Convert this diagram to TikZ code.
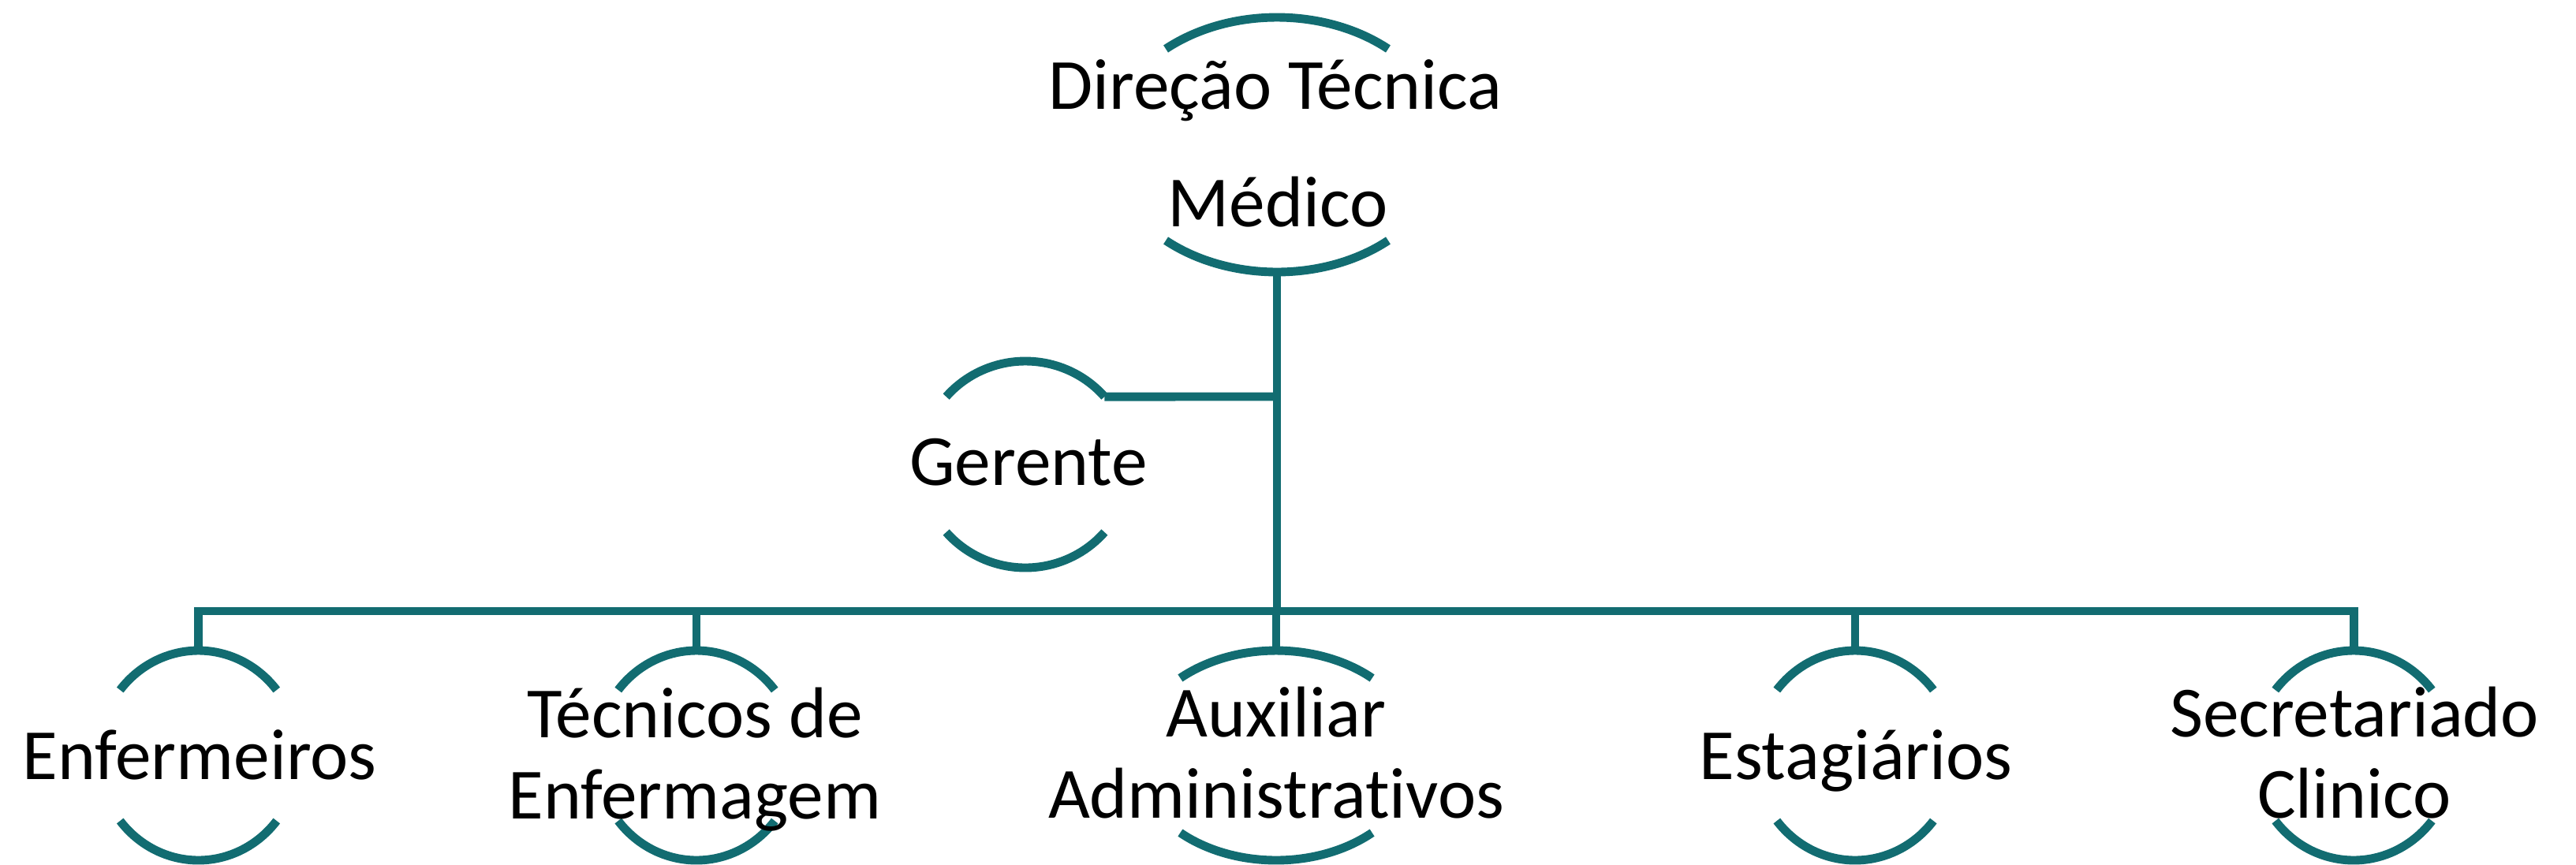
\documentclass[tikz,border=0pt]{standalone}
\usepackage{fontspec}
\setmainfont{Carlito}[Ligatures=NoCommon]
\usetikzlibrary{shapes.geometric,calc}
\definecolor{teal1}{RGB}{18,108,113}
\tikzset{
  unit/.style={ellipse,draw=none,inner sep=0pt},
  lbl/.style={anchor=base,align=center,inner sep=0pt,text=black,
    font=\fontsize{26}{29.2}\selectfont},
  conn/.style={draw=teal1,line width=3.1pt},
  rim/.style={draw=teal1,line width=3.1pt}
}
% draw top and bottom arcs of an ellipse unit: #1 name, #2 angle, #3 rx, #4 ry
\newcommand{\rimarcs}[4]{%
  \draw[rim] ($(#1.center)+(#2:#3 and #4)$) arc[start angle=#2,end angle=180-#2,x radius=#3,y radius=#4];
  \draw[rim] ($(#1.center)+(180+#2:#3 and #4)$) arc[start angle=180+#2,end angle=360-#2,x radius=#3,y radius=#4];
}
\begin{document}
\begin{tikzpicture}
\useasboundingbox (0,0) rectangle (32.66,-10.96);
% units (ellipse frames)
\node[unit,minimum width=4.28cm,minimum height=3.23cm] (top) at (16.19,-1.835) {};
\node[unit,minimum width=2.66cm,minimum height=2.62cm] (ger) at (13.00,-5.89) {};
\node[unit,minimum width=2.54cm,minimum height=2.66cm] (enf) at (2.515,-9.58) {};
\node[unit,minimum width=2.54cm,minimum height=2.66cm] (tec) at (8.83,-9.58) {};
\node[unit,minimum width=3.60cm,minimum height=2.66cm] (aux) at (16.18,-9.58) {};
\node[unit,minimum width=2.54cm,minimum height=2.66cm] (est) at (23.52,-9.58) {};
\node[unit,minimum width=2.54cm,minimum height=2.66cm] (sec) at (29.84,-9.58) {};

\rimarcs{top}{48.8}{2.14cm}{1.615cm}
\rimarcs{ger}{41}{1.33cm}{1.31cm}
\rimarcs{enf}{38.6}{1.27cm}{1.33cm}
\rimarcs{tec}{38.6}{1.27cm}{1.33cm}
\rimarcs{aux}{47.5}{1.80cm}{1.33cm}
\rimarcs{est}{38.6}{1.27cm}{1.33cm}
\rimarcs{sec}{38.6}{1.27cm}{1.33cm}

% labels
\node[lbl] (tdir) at (16.17,-1.38) {Direção Técnica};
\node[lbl] (tmed) at (16.20,-2.87) {Médico};
\node[lbl] (tger) at (13.04,-6.15) {Gerente};
\node[lbl] (tenf) at (2.53,-9.88) {Enfermeiros};
\node[lbl] (ttec) at (8.81,-10.38) {Técnicos de\\Enfermagem};
\node[lbl] (taux) at (16.18,-10.37) {Auxiliar\\Administrativos};
\node[lbl] (test) at (23.53,-9.88) {Estagiários};
\node[lbl] (tsec) at (29.85,-10.37) {Secretariado\\Clinico};

% connectors
\coordinate (bus) at (16.19,-7.75);
\coordinate (gj) at (16.19,-5.03);
\coordinate (gend) at ($(ger.center)+(41:1.33cm and 1.31cm)$);
\draw[conn] (top.south) -- (bus);
\draw[conn] (gend) -- (gj);
\draw[conn] (enf.north) |- (bus) -| (sec.north);
\draw[conn] (tec.north) -- (tec.north |- bus);
\draw[conn] (aux.north) -- (aux.north |- bus);
\draw[conn] (est.north) -- (est.north |- bus);
\end{tikzpicture}
\end{document}
